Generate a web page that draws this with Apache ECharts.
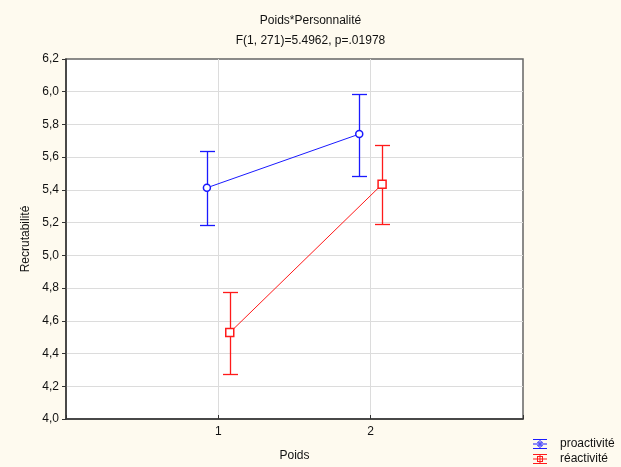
<!DOCTYPE html>
<html>
<head>
<meta charset="utf-8">
<script src="https://cdn.jsdelivr.net/npm/echarts@6/dist/echarts.min.js"></script>
<style>
html,body{margin:0;padding:0;background:#fefaef;}
#c{width:621px;height:467px;}
</style>
</head>
<body>
<div id="c"></div>
<script>
// ---- data ----
const categories = [1, 2];
const seriesNames = ['proactivité', 'réactivité'];
const proMean = [5.413, 5.741];
const proLow  = [5.185, 5.484];
const proHigh = [5.639, 5.988];
const reaMean = [4.528, 5.434];
const reaLow  = [4.278, 5.191];
const reaHigh = [4.777, 5.672];

// ---- style ----
const BLUE = '#1a1aff';
const RED = '#ff1a1a';
const DODGE = 0.075;
const FONT = 'Liberation Sans, Arial, sans-serif';

function meanData(means, off) {
  return categories.map((c, i) => [c + off, means[i]]);
}
function errData(lows, highs, off) {
  return categories.map((c, i) => [c + off, lows[i], highs[i]]);
}
function errRender(color) {
  return function (params, api) {
    const x = api.value(0);
    const lo = api.coord([x, api.value(1)]);
    const hi = api.coord([x, api.value(2)]);
    const cx = Math.round(lo[0]) + 0.5;
    const y1 = Math.round(hi[1]) + 0.5;
    const y2 = Math.round(lo[1]) + 0.5;
    const hw = 7.5;
    const mk = (shape) => ({ type: 'line', shape: shape, style: { stroke: color, fill: null, lineWidth: 1.3 } });
    return {
      type: 'group',
      children: [
        mk({ x1: cx, y1: y1, x2: cx, y2: y2 }),
        mk({ x1: cx - hw, y1: y1, x2: cx + hw, y2: y1 }),
        mk({ x1: cx - hw, y1: y2, x2: cx + hw, y2: y2 })
      ]
    };
  };
}

const iconCircle = 'path://M0,0h14v1h-14z M0,9h14v1h-14z M0,4.5h14v1h-14z M6.5,0h1v10h-1z ' +
  'M10,5A3,3 0 1,0 4,5A3,3 0 1,0 10,5z M9,5A2,2 0 1,1 5,5A2,2 0 1,1 9,5z';
const iconSquare = 'path://M0,0h14v1h-14z M0,9h14v1h-14z M0,4.5h14v1h-14z M6.5,0h1v10h-1z ' +
  'M4,2h6v6h-6z M5,3v4h4v-4z';

const chart = echarts.init(document.getElementById('c'), null, { renderer: 'canvas' });
chart.setOption({
  backgroundColor: '#fefaef',
  animation: false,
  textStyle: { fontFamily: FONT },
  title: {
    text: 'Poids*Personnalité',
    subtext: 'F(1, 271)=5.4962, p=.01978',
    left: 'center',
    top: 10,
    itemGap: 8,
    textStyle: { fontSize: 12, fontWeight: 'normal', color: '#111', fontFamily: FONT },
    subtextStyle: { fontSize: 12, color: '#111', fontFamily: FONT }
  },
  legend: {
    orient: 'vertical',
    left: 533,
    top: 437,
    height: 30,
    itemGap: 1,
    itemWidth: 14,
    itemHeight: 10,
    padding: 0,
    textStyle: { fontSize: 12, color: '#111', fontFamily: FONT, lineHeight: 14, padding: [0, 0, 0, 8] },
    data: [
      { name: seriesNames[0], icon: iconCircle, itemStyle: { color: BLUE } },
      { name: seriesNames[1], icon: iconSquare, itemStyle: { color: RED } }
    ]
  },
  grid: {
    left: 66, top: 59, right: 98, bottom: 48,
    show: true,
    backgroundColor: '#ffffff',
    borderColor: '#666',
    borderWidth: 1.5
  },
  xAxis: {
    type: 'value',
    min: 0, max: 3, interval: 1,
    name: 'Poids',
    nameLocation: 'middle',
    nameGap: 31,
    nameTextStyle: { fontSize: 12, color: '#111', fontFamily: FONT },
    axisLine: { show: true, onZero: false, lineStyle: { color: '#333', width: 1.5 } },
    axisTick: { show: true, inside: true, length: 4, lineStyle: { color: '#333' } },
    axisLabel: {
      fontSize: 12, color: '#111', margin: 7, fontFamily: FONT,
      formatter: v => (v === 1 || v === 2) ? String(v) : ''
    },
    splitLine: { show: true, showMinLine: false, showMaxLine: false, lineStyle: { color: '#dcdcdc', width: 1 } }
  },
  yAxis: {
    type: 'value',
    min: 4.0, max: 6.2, interval: 0.2,
    name: 'Recrutabilité',
    nameLocation: 'middle',
    nameGap: 34,
    nameTextStyle: { fontSize: 12, color: '#111', fontFamily: FONT },
    axisLine: { show: true, onZero: false, lineStyle: { color: '#333', width: 1.5 } },
    axisTick: { show: true, inside: false, length: 4, lineStyle: { color: '#333' } },
    axisLabel: {
      fontSize: 12, color: '#111', margin: 7, fontFamily: FONT,
      formatter: v => v.toFixed(1).replace('.', ',')
    },
    splitLine: { show: true, showMinLine: false, showMaxLine: false, lineStyle: { color: '#dcdcdc', width: 1 } }
  },
  series: [
    {
      name: seriesNames[0], type: 'custom', z: 2,
      color: BLUE,
      itemStyle: { color: BLUE },
      renderItem: errRender(BLUE),
      data: errData(proLow, proHigh, -DODGE),
      encode: { x: 0, y: [1, 2] }
    },
    {
      name: seriesNames[1], type: 'custom', z: 2,
      color: RED,
      itemStyle: { color: RED },
      renderItem: errRender(RED),
      data: errData(reaLow, reaHigh, DODGE),
      encode: { x: 0, y: [1, 2] }
    },
    {
      name: seriesNames[0], type: 'line', z: 3,
      data: meanData(proMean, -DODGE),
      symbol: 'circle', symbolSize: 7,
      itemStyle: { color: '#ffffff', borderColor: BLUE, borderWidth: 1.5 },
      lineStyle: { color: BLUE, width: 1 },
      color: BLUE
    },
    {
      name: seriesNames[1], type: 'line', z: 3,
      data: meanData(reaMean, DODGE),
      symbol: 'rect', symbolSize: 8,
      itemStyle: { color: '#ffffff', borderColor: RED, borderWidth: 1.5 },
      lineStyle: { color: RED, width: 1 },
      color: RED
    }
  ]
});
</script>
</body>
</html>
